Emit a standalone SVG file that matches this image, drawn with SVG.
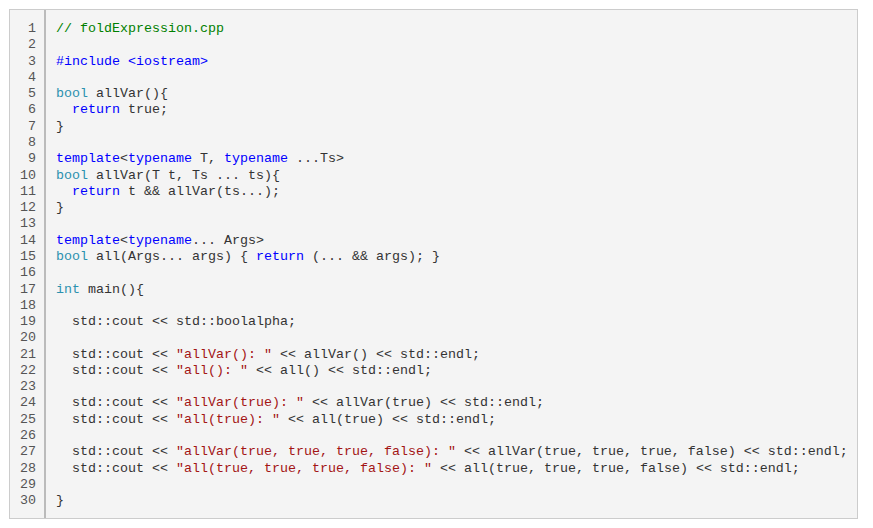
<svg xmlns="http://www.w3.org/2000/svg" width="873" height="528" viewBox="0 0 873 528">
<style>
text{font-family:"Liberation Mono","DejaVu Sans Mono",monospace;font-size:13.33px;fill:#333;white-space:pre}
.n{fill:#555;text-anchor:end}
.c{fill:#008000}.k{fill:#0000ff}.t{fill:#2b91af}.s{fill:#a31515}
</style>
<rect x="0" y="0" width="873" height="528" fill="#fff"/>
<g id="box"><rect x="9.5" y="9.5" width="848" height="509" fill="#f4f4f4" stroke="#ccc"/>
<line x1="45" y1="10" x2="45" y2="518" stroke="#bbb" stroke-width="2"/></g>
<g id="nums">
<text class="n" x="36" y="32">1</text><text class="n" x="36" y="48.3">2</text><text class="n" x="36" y="64.6">3</text><text class="n" x="36" y="80.8">4</text><text class="n" x="36" y="97.1">5</text><text class="n" x="36" y="113.4">6</text><text class="n" x="36" y="129.7">7</text><text class="n" x="36" y="146">8</text><text class="n" x="36" y="162.2">9</text><text class="n" x="36" y="178.5">10</text><text class="n" x="36" y="194.8">11</text><text class="n" x="36" y="211.1">12</text><text class="n" x="36" y="227.4">13</text><text class="n" x="36" y="243.6">14</text><text class="n" x="36" y="259.9">15</text><text class="n" x="36" y="276.2">16</text><text class="n" x="36" y="292.5">17</text><text class="n" x="36" y="308.8">18</text><text class="n" x="36" y="325">19</text><text class="n" x="36" y="341.3">20</text><text class="n" x="36" y="357.6">21</text><text class="n" x="36" y="373.9">22</text><text class="n" x="36" y="390.2">23</text><text class="n" x="36" y="406.4">24</text><text class="n" x="36" y="422.7">25</text><text class="n" x="36" y="439">26</text><text class="n" x="36" y="455.3">27</text><text class="n" x="36" y="471.6">28</text><text class="n" x="36" y="487.8">29</text><text class="n" x="36" y="504.1">30</text>
</g>
<g id="code">
<text x="56" y="32"><tspan class="c">// foldExpression.cpp</tspan></text>
<text x="56" y="64.6"><tspan class="k">#include &lt;iostream&gt;</tspan></text>
<text x="56" y="97.1"><tspan class="t">bool</tspan> allVar(){</text>
<text x="56" y="113.4">  <tspan class="k">return</tspan> true;</text>
<text x="56" y="129.7">}</text>
<text x="56" y="162.2"><tspan class="k">template</tspan>&lt;<tspan class="k">typename</tspan> T, <tspan class="k">typename</tspan> ...Ts&gt;</text>
<text x="56" y="178.5"><tspan class="t">bool</tspan> allVar(T t, Ts ... ts){</text>
<text x="56" y="194.8">  <tspan class="k">return</tspan> t &amp;&amp; allVar(ts...);</text>
<text x="56" y="211.1">}</text>
<text x="56" y="243.6"><tspan class="k">template</tspan>&lt;<tspan class="k">typename</tspan>... Args&gt;</text>
<text x="56" y="259.9"><tspan class="t">bool</tspan> all(Args... args) { <tspan class="k">return</tspan> (... &amp;&amp; args); }</text>
<text x="56" y="292.5"><tspan class="t">int</tspan> main(){</text>
<text x="56" y="325">  std::cout &lt;&lt; std::boolalpha;</text>
<text x="56" y="357.6">  std::cout &lt;&lt; <tspan class="s">"allVar(): "</tspan> &lt;&lt; allVar() &lt;&lt; std::endl;</text>
<text x="56" y="373.9">  std::cout &lt;&lt; <tspan class="s">"all(): "</tspan> &lt;&lt; all() &lt;&lt; std::endl;</text>
<text x="56" y="406.4">  std::cout &lt;&lt; <tspan class="s">"allVar(true): "</tspan> &lt;&lt; allVar(true) &lt;&lt; std::endl;</text>
<text x="56" y="422.7">  std::cout &lt;&lt; <tspan class="s">"all(true): "</tspan> &lt;&lt; all(true) &lt;&lt; std::endl;</text>
<text x="56" y="455.3">  std::cout &lt;&lt; <tspan class="s">"allVar(true, true, true, false): "</tspan> &lt;&lt; allVar(true, true, true, false) &lt;&lt; std::endl;</text>
<text x="56" y="471.6">  std::cout &lt;&lt; <tspan class="s">"all(true, true, true, false): "</tspan> &lt;&lt; all(true, true, true, false) &lt;&lt; std::endl;</text>
<text x="56" y="504.1">}</text>
</g>
</svg>
